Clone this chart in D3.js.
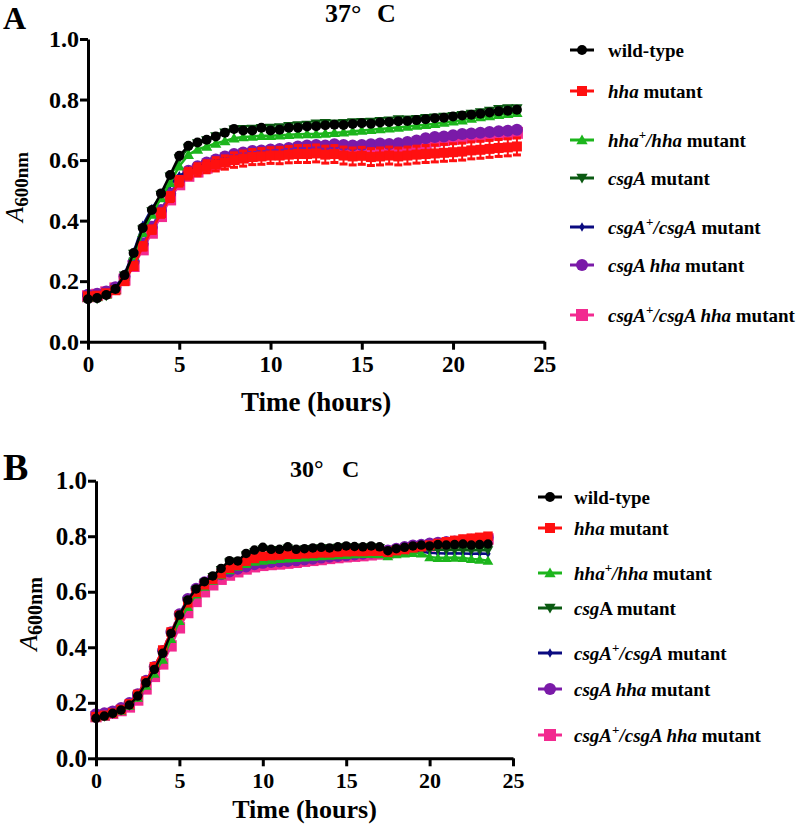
<!DOCTYPE html>
<html><head><meta charset="utf-8">
<script src="https://cdn.jsdelivr.net/npm/d3@7"></script>
<style>
body{margin:0;background:#fff}
svg{display:block}
text{font-family:"Liberation Serif","Times New Roman",serif;font-weight:bold;fill:#000}
</style>
</head><body>
<svg id="c" width="800" height="827"></svg>
<script>
// ---------- data ----------
const times = [0,0.5,1,1.5,2,2.5,3,3.5,4,4.5,5,5.5,6,6.5,7,7.5,8,8.5,9,9.5,10,10.5,11,11.5,12,12.5,13,13.5,14,14.5,15,15.5,16,16.5,17,17.5,18,18.5,19,19.5,20,20.5,21,21.5,22,22.5,23,23.5];
const yTicks = [0.0,0.2,0.4,0.6,0.8,1.0];
const xTicks = [0,5,10,15,20,25];
const seriesKeys = ["wt","hha","hhaComp","csgA","csgAComp","csgAhha","csgAhhaComp"];
const seriesColors = ["#000000","#ff1010","#1cb51c","#0b5a12","#0a0a80","#7a1aa8","#f22a90"];
const seriesShapes = ["circle","square","triangle","triangleDown","diamond","circleBig","squareBig"];

// Panel A, 37 C
const A_wt          = [0.140,0.144,0.154,0.174,0.220,0.293,0.376,0.435,0.490,0.551,0.614,0.647,0.658,0.667,0.678,0.690,0.703,0.698,0.698,0.707,0.698,0.700,0.707,0.707,0.711,0.712,0.715,0.717,0.716,0.719,0.722,0.720,0.724,0.726,0.728,0.729,0.732,0.735,0.738,0.740,0.744,0.747,0.750,0.753,0.757,0.761,0.763,0.766];
const A_hha         = [0.150,0.152,0.160,0.170,0.200,0.250,0.315,0.370,0.425,0.478,0.530,0.555,0.568,0.578,0.586,0.592,0.600,0.605,0.610,0.612,0.615,0.615,0.618,0.620,0.620,0.622,0.618,0.620,0.615,0.612,0.614,0.610,0.612,0.615,0.612,0.615,0.618,0.620,0.622,0.624,0.626,0.628,0.632,0.634,0.637,0.640,0.642,0.645];
const A_hha_sd      = [0.005,0.005,0.005,0.006,0.008,0.010,0.012,0.012,0.014,0.015,0.016,0.018,0.020,0.020,0.022,0.022,0.024,0.025,0.025,0.026,0.026,0.027,0.027,0.028,0.028,0.028,0.028,0.028,0.028,0.028,0.028,0.028,0.028,0.028,0.028,0.028,0.028,0.028,0.028,0.028,0.028,0.028,0.028,0.028,0.028,0.028,0.028,0.028];
const A_hhaComp     = [0.145,0.148,0.156,0.172,0.215,0.285,0.360,0.420,0.475,0.525,0.580,0.618,0.635,0.645,0.655,0.663,0.672,0.676,0.678,0.680,0.680,0.682,0.684,0.685,0.686,0.686,0.688,0.690,0.692,0.695,0.698,0.700,0.703,0.705,0.708,0.711,0.714,0.717,0.720,0.724,0.728,0.732,0.737,0.742,0.746,0.750,0.753,0.756];
const A_csgA        = [0.138,0.142,0.152,0.172,0.218,0.290,0.370,0.430,0.485,0.545,0.605,0.640,0.655,0.665,0.678,0.690,0.700,0.702,0.703,0.705,0.706,0.708,0.712,0.714,0.716,0.720,0.722,0.720,0.722,0.724,0.725,0.726,0.728,0.730,0.734,0.733,0.735,0.738,0.740,0.742,0.745,0.748,0.752,0.757,0.762,0.768,0.770,0.770];
const A_csgAComp    = [0.148,0.150,0.158,0.176,0.224,0.296,0.385,0.440,0.482,0.520,0.548,0.565,0.577,0.587,0.595,0.600,0.606,0.610,0.614,0.616,0.618,0.618,0.621,0.623,0.623,0.625,0.621,0.623,0.618,0.615,0.617,0.613,0.615,0.618,0.615,0.618,0.621,0.623,0.625,0.627,0.629,0.631,0.635,0.637,0.640,0.643,0.645,0.648];
const A_csgAhha     = [0.155,0.158,0.166,0.180,0.215,0.265,0.325,0.380,0.435,0.490,0.535,0.565,0.580,0.592,0.602,0.612,0.620,0.625,0.630,0.632,0.635,0.637,0.640,0.645,0.648,0.650,0.648,0.652,0.650,0.648,0.650,0.652,0.655,0.653,0.656,0.660,0.665,0.672,0.676,0.678,0.682,0.686,0.688,0.690,0.693,0.695,0.697,0.700];
const A_csgAhhaComp = [0.150,0.155,0.163,0.176,0.205,0.250,0.305,0.360,0.415,0.470,0.520,0.548,0.562,0.575,0.586,0.596,0.604,0.610,0.614,0.618,0.620,0.622,0.625,0.628,0.630,0.632,0.630,0.634,0.632,0.630,0.632,0.633,0.634,0.635,0.636,0.640,0.648,0.656,0.662,0.666,0.670,0.674,0.678,0.680,0.684,0.686,0.688,0.690];

// Panel B, 30 C
const B_wt          = [0.144,0.152,0.162,0.174,0.192,0.224,0.272,0.320,0.378,0.450,0.516,0.570,0.610,0.636,0.657,0.684,0.712,0.711,0.738,0.750,0.760,0.753,0.753,0.762,0.753,0.755,0.758,0.760,0.758,0.762,0.765,0.763,0.762,0.765,0.762,0.748,0.755,0.760,0.765,0.768,0.765,0.770,0.768,0.770,0.772,0.768,0.770,0.772];
const B_hha         = [0.150,0.155,0.163,0.176,0.196,0.230,0.278,0.330,0.390,0.455,0.515,0.560,0.598,0.625,0.645,0.665,0.685,0.695,0.710,0.720,0.728,0.730,0.732,0.735,0.735,0.737,0.738,0.740,0.740,0.742,0.744,0.745,0.745,0.746,0.746,0.742,0.748,0.752,0.758,0.762,0.768,0.774,0.780,0.785,0.790,0.793,0.796,0.800];
const B_hhaComp     = [0.148,0.152,0.160,0.172,0.190,0.218,0.262,0.305,0.355,0.430,0.495,0.545,0.590,0.618,0.640,0.660,0.678,0.690,0.700,0.708,0.712,0.715,0.718,0.720,0.722,0.724,0.726,0.728,0.730,0.732,0.733,0.735,0.736,0.736,0.735,0.728,0.735,0.738,0.740,0.738,0.725,0.722,0.722,0.723,0.722,0.718,0.716,0.712];
const B_csgA        = [0.142,0.150,0.160,0.172,0.190,0.222,0.268,0.318,0.372,0.445,0.510,0.565,0.605,0.632,0.653,0.678,0.705,0.708,0.730,0.742,0.752,0.750,0.750,0.755,0.750,0.752,0.754,0.756,0.755,0.758,0.760,0.758,0.758,0.760,0.757,0.745,0.750,0.752,0.754,0.754,0.752,0.751,0.750,0.751,0.750,0.749,0.750,0.749];
const B_csgAComp    = [0.146,0.153,0.162,0.175,0.194,0.226,0.274,0.324,0.382,0.450,0.512,0.565,0.604,0.630,0.650,0.672,0.695,0.702,0.718,0.728,0.735,0.736,0.738,0.740,0.740,0.742,0.744,0.746,0.746,0.748,0.750,0.750,0.750,0.752,0.752,0.745,0.748,0.748,0.746,0.744,0.740,0.739,0.738,0.739,0.738,0.737,0.738,0.737];
const B_csgAhha     = [0.160,0.163,0.170,0.182,0.200,0.232,0.280,0.330,0.388,0.455,0.520,0.575,0.612,0.635,0.650,0.662,0.672,0.682,0.690,0.698,0.703,0.706,0.708,0.710,0.712,0.715,0.718,0.722,0.725,0.728,0.730,0.733,0.736,0.740,0.745,0.750,0.756,0.762,0.768,0.770,0.775,0.778,0.780,0.782,0.785,0.788,0.790,0.795];
const B_csgAhhaComp = [0.150,0.155,0.162,0.172,0.185,0.210,0.250,0.295,0.340,0.405,0.470,0.525,0.565,0.600,0.625,0.645,0.660,0.672,0.682,0.690,0.695,0.698,0.700,0.703,0.706,0.710,0.713,0.716,0.720,0.723,0.726,0.728,0.730,0.733,0.736,0.740,0.745,0.750,0.756,0.760,0.765,0.770,0.773,0.776,0.780,0.783,0.786,0.790];

// legend label parts: [text, italic?, superscript?]
const legendA = [
  [["wild-type",0,0]],
  [["hha",1,0],[" mutant",0,0]],
  [["hha",1,0],["+",0,1],["/hha",1,0],[" mutant",0,0]],
  [["csgA",1,0],[" mutant",0,0]],
  [["csgA",1,0],["+",0,1],["/csgA",1,0],[" mutant",0,0]],
  [["csgA hha",1,0],[" mutant",0,0]],
  [["csgA",1,0],["+",0,1],["/csgA hha",1,0],[" mutant",0,0]]
];
const legendB = [
  [["wild-type",0,0]],
  [["hha",1,0],[" mutant",0,0]],
  [["hha",1,0],["+",0,1],["/hha",1,0],[" mutant",0,0]],
  [["csg",1,0],["A mutant",0,0]],
  [["csgA",1,0],["+",0,1],["/csgA",1,0],[" mutant",0,0]],
  [["csgA hha",1,0],[" mutant",0,0]],
  [["csgA",1,0],["+",0,1],["/csgA hha",1,0],[" mutant",0,0]]
];

// ---------- drawing ----------
const svg = d3.select("#c");

function drawMarker(g, shape, color, cx, cy, scale){
  const s = scale || 1;
  if (shape === "circle") g.append("circle").attr("cx",cx).attr("cy",cy).attr("r",5*s).attr("fill",color);
  else if (shape === "circleBig") g.append("circle").attr("cx",cx).attr("cy",cy).attr("r",6*s).attr("fill",color);
  else if (shape === "square") g.append("rect").attr("x",cx-5*s).attr("y",cy-5*s).attr("width",10*s).attr("height",10*s).attr("fill",color);
  else if (shape === "squareBig") g.append("rect").attr("x",cx-6*s).attr("y",cy-6*s).attr("width",12*s).attr("height",12*s).attr("fill",color);
  else if (shape === "triangle") g.append("path").attr("d",d3.symbol().type(d3.symbolTriangle).size(55*s*s)()).attr("transform",`translate(${cx},${cy+1})`).attr("fill",color);
  else if (shape === "triangleDown") g.append("path").attr("d",d3.symbol().type(d3.symbolTriangle).size(55*s*s)()).attr("transform",`translate(${cx},${cy-1}) rotate(180)`).attr("fill",color);
  else if (shape === "diamond") g.append("path").attr("d",d3.symbol().type(d3.symbolDiamond).size(26*s*s)()).attr("transform",`translate(${cx},${cy})`).attr("fill",color);
}

function panel(cfg){
  const x = d3.scaleLinear().domain([0,25]).range([cfg.x0, cfg.x1]);
  const y = d3.scaleLinear().domain([0,1]).range([cfg.y0, cfg.y1]);
  const g = svg.append("g");

  // series: draw last series first so wild-type ends on top
  const order = d3.range(cfg.series.length).reverse();
  order.forEach(i => {
    const vals = cfg.series[i];
    const sd = cfg.errors[i];
    const pts = times.map((t,k)=>[t, vals[k], sd ? sd[k] : 0]).filter(p=>p[1]!=null);
    const sg = g.append("g");
    if (sd) {
      pts.forEach(p => {
        const xx = x(p[0]), lo = y(p[1]-p[2]), hi = y(p[1]+p[2]);
        sg.append("line").attr("x1",xx).attr("x2",xx).attr("y1",lo).attr("y2",hi).attr("stroke",seriesColors[i]).attr("stroke-width",2);
        [lo,hi].forEach(yy => sg.append("line").attr("x1",xx-4).attr("x2",xx+4).attr("y1",yy).attr("y2",yy).attr("stroke",seriesColors[i]).attr("stroke-width",3));
      });
    }
    sg.append("path").datum(pts)
      .attr("fill","none").attr("stroke",seriesColors[i]).attr("stroke-width",2.5)
      .attr("d", d3.line().x(p=>x(p[0])).y(p=>y(p[1])));
    pts.forEach(p => drawMarker(sg, seriesShapes[i], seriesColors[i], x(p[0]), y(p[1]), cfg.mScale));
  });

  // axes
  const ya = g.append("g").attr("transform",`translate(${cfg.x0},0)`)
    .call(d3.axisLeft(y).tickValues(yTicks).tickFormat(d3.format(".1f")).tickSize(8).tickSizeOuter(0).tickPadding(1));
  const xa = g.append("g").attr("transform",`translate(0,${cfg.y0})`)
    .call(d3.axisBottom(x).tickValues(xTicks).tickFormat(d3.format("d")).tickSize(8).tickSizeOuter(0).tickPadding(6));
  [ya,xa].forEach(a=>{
    a.select(".domain").attr("stroke","#000").attr("stroke-width",3);
    a.selectAll(".tick line").attr("stroke","#000").attr("stroke-width",3);
    a.selectAll("text").attr("fill","#000").style("font-family",'"Liberation Serif",serif').style("font-weight","bold");
  });
  ya.selectAll("text").style("font-size",cfg.yTickFont+"px");
  xa.selectAll("text").style("font-size",cfg.xTickFont+"px");

  // x title
  g.append("text").attr("x",(cfg.x0+cfg.x1)/2).attr("y",cfg.xTitleY).attr("text-anchor","middle")
    .style("font-size",cfg.xTitleFont+"px").text("Time (hours)");

  // y title
  const yt = g.append("text").attr("transform",`translate(${cfg.yTitleX},${cfg.yTitleCY}) rotate(-90)`)
    .attr("text-anchor","middle");
  yt.append("tspan").style("font-style","italic").style("font-weight","normal").style("font-size",cfg.yTitleFont+"px").text("A");
  yt.append("tspan").attr("dy",5).style("font-size",(cfg.yTitleFont-6)+"px").text("600nm");

  // panel letter
  g.append("text").attr("x",3).attr("y",cfg.letterY).style("font-size",cfg.letterFont+"px").text(cfg.letter);

  // temperature title
  g.append("text").attr("x",cfg.titleX).attr("y",cfg.titleY).style("font-size",cfg.titleFont+"px").text(cfg.titleNum+"\u00B0");
  g.append("text").attr("x",cfg.titleCX).attr("y",cfg.titleY).style("font-size",cfg.titleFont+"px").text("C");

  // legend
  cfg.legend.forEach((parts,i)=>{
    const cy = cfg.legRows[i];
    const lg = g.append("g");
    lg.append("line").attr("x1",cfg.legX0).attr("x2",cfg.legX1).attr("y1",cy).attr("y2",cy)
      .attr("stroke",seriesColors[i]).attr("stroke-width",3);
    drawMarker(lg, seriesShapes[i], seriesColors[i], (cfg.legX0+cfg.legX1)/2, cy, 1);
    const t = lg.append("text").attr("x",cfg.legTextX).attr("y",cy+6.5).style("font-size",cfg.legFont+"px");
    let shifted=false;
    parts.forEach(p=>{
      const ts = t.append("tspan").text(p[0]);
      if (p[1]) ts.style("font-style","italic");
      if (p[2]) { ts.attr("dy",-8).style("font-size",(cfg.legFont-6)+"px"); shifted=true; }
      else if (shifted) { ts.attr("dy",8); shifted=false; }
    });
  });
}

panel({
  series:[A_wt,A_hha,A_hhaComp,A_csgA,A_csgAComp,A_csgAhha,A_csgAhhaComp],
  errors:[null,A_hha_sd,null,null,null,null,null],
  x0:88, x1:544.3, y0:341.7, y1:39, mScale:1,
  yTickFont:24, xTickFont:23, xTitleY:411, xTitleFont:27,
  yTitleX:23, yTitleCY:187, yTitleFont:25,
  letter:"A", letterY:29, letterFont:32,
  titleNum:"37", titleX:325, titleCX:377, titleY:22, titleFont:26,
  legend:legendA, legRows:[50,91,140,178,227,265,315], legX0:570, legX1:594, legTextX:608, legFont:19
});
panel({
  series:[B_wt,B_hha,B_hhaComp,B_csgA,B_csgAComp,B_csgAhha,B_csgAhhaComp],
  errors:[null,null,null,null,null,null,null],
  x0:96, x1:513, y0:758.3, y1:480.7, mScale:0.95,
  yTickFont:25, xTickFont:22, xTitleY:818, xTitleFont:26,
  yTitleX:37, yTitleCY:614, yTitleFont:26,
  letter:"B", letterY:480, letterFont:38,
  titleNum:"30", titleX:290, titleCX:342, titleY:477, titleFont:24,
  legend:legendB, legRows:[497,528,573,608,653,689,735], legX0:538, legX1:562, legTextX:574, legFont:19
});
</script>
</body></html>
